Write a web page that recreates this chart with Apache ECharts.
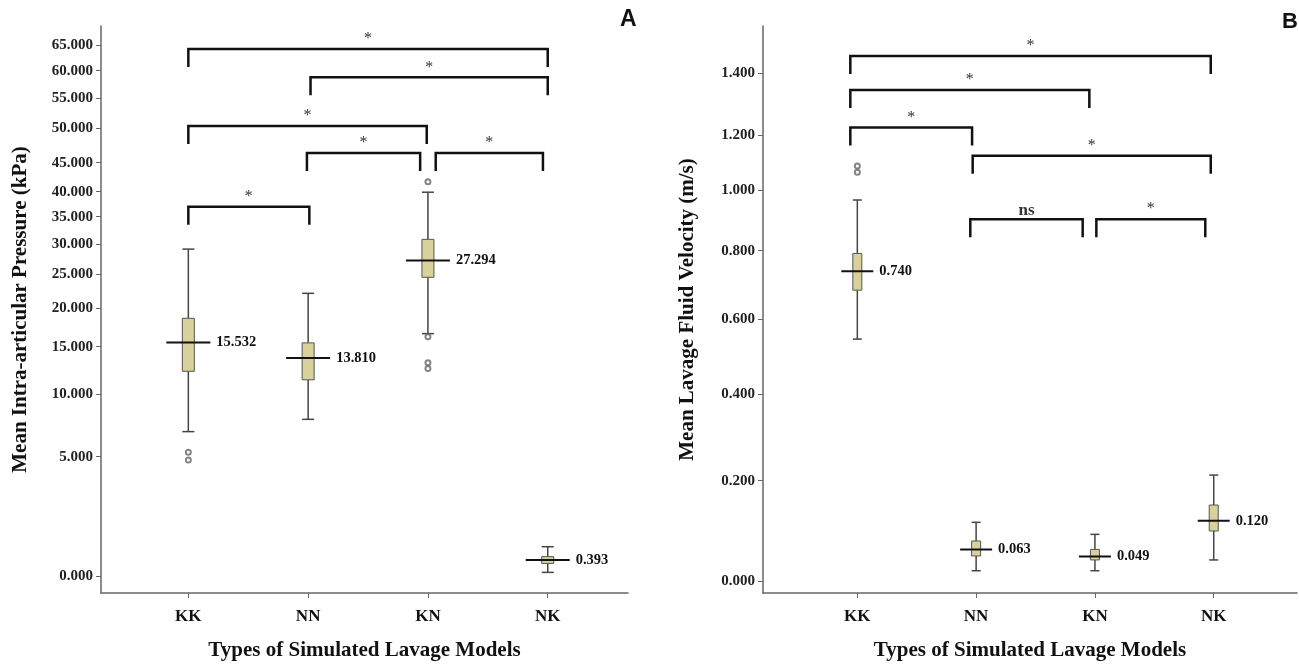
<!DOCTYPE html>
<html>
<head>
<meta charset="utf-8">
<script src="https://cdn.jsdelivr.net/npm/echarts@6/dist/echarts.min.js"></script>
<style>
  html, body { margin: 0; padding: 0; background: #fff; }
  #chart { width: 1299px; height: 665px; }
</style>
</head>
<body>
<div id="chart"></div>
<script>
var categories = ['KK', 'NN', 'KN', 'NK'];

// panel A - pressure (kPa)
var ticksA = [0, 5, 10, 15, 20, 25, 30, 35, 40, 45, 50, 55, 60, 65];
var loA  = [7.0, 7.98, 16.7, 0.06];
var q1A  = [12.4, 11.5, 24.56, 0.29];
var medA = [15.532, 13.810, 27.294, 0.393];
var q3A  = [18.7, 15.5, 30.9, 0.50];
var hiA  = [29.2, 22.2, 39.9, 0.845];
var outliersA = [[1, 5.35], [1, 4.82], [3, 41.7], [3, 16.3], [3, 13.3], [3, 12.7]];
var bracketsA = [
  [1, 4, 64.2, '*'],
  [2.02, 4, 58.8, '*'],
  [1, 2.99, 50.4, '*'],
  [1.99, 2.935, 46.4, '*'],
  [3.065, 3.96, 46.4, '*'],
  [1, 2.01, 37.0, '*']
];

// panel B - velocity (m/s)
var ticksB = [0, 0.2, 0.4, 0.6, 0.8, 1.0, 1.2, 1.4];
var loB  = [0.547, 0.0205, 0.0205, 0.042];
var q1B  = [0.685, 0.050, 0.042, 0.0997];
var medB = [0.740, 0.063, 0.049, 0.120];
var q3B  = [0.792, 0.0798, 0.063, 0.1515];
var hiB  = [0.967, 0.117, 0.093, 0.213];
var outliersB = [[1, 1.087], [1, 1.065]];
var bracketsB = [
  [0.941, 3.975, 1.456, '*'],
  [0.941, 2.953, 1.346, '*'],
  [0.941, 1.966, 1.224, '*'],
  [1.971, 3.975, 1.125, '*'],
  [1.951, 2.897, 0.904, 'ns'],
  [3.012, 3.929, 0.904, '*']
];

// the original axes are not linear: tick spacing shrinks upward.
// scale knots = axis height of each tick
var scaleA = [0, 119.3, 182, 229.3, 267.7, 301.7, 331.7, 359.3, 384.3, 413.3, 447.7, 477.7, 505.3, 531];
var scaleB = [0, 100.3, 187, 261.7, 330.3, 391, 446, 507.7];

function makeWarp(ticks, knots, p0) {
  return function (v) {
    var n = ticks.length;
    if (v <= ticks[1]) {
      if (v <= 0) return knots[0];
      return knots[1] * Math.pow(v / ticks[1], p0);
    }
    for (var i = 1; i < n - 1; i++) {
      if (v <= ticks[i + 1]) {
        return knots[i] + (v - ticks[i]) / (ticks[i + 1] - ticks[i]) * (knots[i + 1] - knots[i]);
      }
    }
    return knots[n - 1] + (v - ticks[n - 1]) / (ticks[n - 1] - ticks[n - 2]) * (knots[n - 1] - knots[n - 2]);
  };
}
var warpA = makeWarp(ticksA, scaleA, 0.79);
var warpB = makeWarp(ticksB, scaleB, 1);

var serif = '"Liberation Serif", "DejaVu Serif", serif';

function boxRender(boxW, medW, fs) {
  return function (params, api) {
    var x = api.value(0);
    var pLo = api.coord([x, api.value(1)]);
    var pQ1 = api.coord([x, api.value(2)]);
    var pMed = api.coord([x, api.value(3)]);
    var pQ3 = api.coord([x, api.value(4)]);
    var pHi = api.coord([x, api.value(5)]);
    var cx = pMed[0];
    var wStyle = { stroke: '#444', lineWidth: 1.5 };
    return {
      type: 'group',
      children: [
        { type: 'line', shape: { x1: cx, y1: pHi[1], x2: cx, y2: pQ3[1] }, style: wStyle },
        { type: 'line', shape: { x1: cx, y1: pQ1[1], x2: cx, y2: pLo[1] }, style: wStyle },
        { type: 'line', shape: { x1: cx - boxW / 2, y1: pHi[1], x2: cx + boxW / 2, y2: pHi[1] }, style: wStyle },
        { type: 'line', shape: { x1: cx - boxW / 2, y1: pLo[1], x2: cx + boxW / 2, y2: pLo[1] }, style: wStyle },
        { type: 'rect', shape: { x: cx - boxW / 2, y: pQ3[1], width: boxW, height: pQ1[1] - pQ3[1] },
          style: { fill: '#d8d199', stroke: '#555', lineWidth: 1 } },
        { type: 'line', shape: { x1: cx - medW / 2, y1: pMed[1], x2: cx + medW / 2, y2: pMed[1] },
          style: { stroke: '#111', lineWidth: 2 } },
        { type: 'text', style: {
          text: api.value(6).toFixed(3), x: cx + medW / 2 + 6, y: pMed[1],
          verticalAlign: 'middle', fontFamily: serif, fontWeight: 'bold', fontSize: fs, fill: '#111' } }
      ]
    };
  };
}

function bracketRender(list, drop) {
  return function (params, api) {
    var p1 = api.coord([api.value(0), api.value(2)]);
    var p2 = api.coord([api.value(1), api.value(2)]);
    var lab = list[params.dataIndex][3];
    var ns = lab !== '*';
    return {
      type: 'group',
      children: [
        { type: 'polyline', shape: { points: [[p1[0], p1[1] + drop], [p1[0], p1[1]], [p2[0], p2[1]], [p2[0], p2[1] + drop]] },
          style: { stroke: '#111', lineWidth: 2.5, fill: null } },
        { type: 'text', style: {
          text: lab, x: (p1[0] + p2[0]) / 2, y: p1[1] - (ns ? 9 : 10),
          align: 'center', verticalAlign: 'middle', fontFamily: serif,
          fontWeight: ns ? 'bold' : 'normal', fontSize: ns ? 17 : 16, fill: '#333' } }
      ]
    };
  };
}

function boxData(lo, q1, med, q3, hi, warp) {
  return categories.map(function (c, i) {
    return [i + 1, warp(lo[i]), warp(q1[i]), warp(med[i]), warp(q3[i]), warp(hi[i]), med[i]];
  });
}

function yAxis(ticks, warp, min, max, name, gap, idx) {
  var pos = ticks.map(warp);
  return {
    type: 'value', gridIndex: idx, min: min, max: max,
    name: name, nameLocation: 'middle', nameGap: gap,
    nameTextStyle: { fontFamily: serif, fontWeight: 'bold', fontSize: 21, color: '#111' },
    axisLine: { show: true, lineStyle: { color: '#666', width: 1.5 } },
    axisTick: { show: true, length: 5, customValues: pos, lineStyle: { color: '#666' } },
    splitLine: { show: false },
    axisLabel: {
      customValues: pos, margin: 8,
      fontFamily: serif, fontWeight: 'bold', fontSize: 15, color: '#222',
      formatter: function (v) {
        for (var i = 0; i < pos.length; i++) {
          if (Math.abs(pos[i] - v) < 0.01) return ticks[i].toFixed(3);
        }
        return '';
      }
    }
  };
}

function xAxis(min, max, idx) {
  return {
    type: 'value', gridIndex: idx, min: min, max: max,
    name: 'Types of Simulated Lavage Models', nameLocation: 'middle', nameGap: 47,
    nameTextStyle: { fontFamily: serif, fontWeight: 'bold', fontSize: 21, color: '#111' },
    axisLine: { show: true, onZero: false, lineStyle: { color: '#666', width: 1.5 } },
    axisTick: { show: true, length: 5, customValues: [1, 2, 3, 4], lineStyle: { color: '#666' } },
    splitLine: { show: false },
    axisLabel: {
      customValues: [1, 2, 3, 4], margin: 15,
      fontFamily: serif, fontWeight: 'bold', fontSize: 17, color: '#111',
      formatter: function (v) { return categories[Math.round(v) - 1] || ''; }
    }
  };
}

var chart = echarts.init(document.getElementById('chart'));
chart.setOption({
  animation: false,
  backgroundColor: '#fff',
  grid: [
    { left: 101, top: 26, right: 671, bottom: 72, outerBoundsMode: 'none' },
    { left: 763, top: 26, right: 2, bottom: 72, outerBoundsMode: 'none' }
  ],
  xAxis: [xAxis(0.271, 4.670, 0), xAxis(0.206, 4.701, 1)],
  yAxis: [
    yAxis(ticksA, warpA, -17, 550, 'Mean Intra-articular Pressure (kPa)', 70, 0),
    yAxis(ticksB, warpB, -12, 555, 'Mean Lavage Fluid Velocity (m/s)', 65, 1)
  ],
  graphic: [
    { type: 'text', left: 620, top: 8, style: { text: 'A', fontFamily: '"Liberation Sans", Arial, sans-serif', fontWeight: 'bold', fontSize: 23, fill: '#111' } },
    { type: 'text', left: 1282, top: 11, style: { text: 'B', fontFamily: '"Liberation Sans", Arial, sans-serif', fontWeight: 'bold', fontSize: 22, fill: '#111' } }
  ],
  series: [
    { type: 'custom', xAxisIndex: 0, yAxisIndex: 0, renderItem: boxRender(12, 44, 14.5),
      data: boxData(loA, q1A, medA, q3A, hiA, warpA), encode: { x: 0, y: [1, 2, 3, 4, 5] } },
    { type: 'scatter', xAxisIndex: 0, yAxisIndex: 0, symbol: 'emptyCircle', symbolSize: 5,
      itemStyle: { color: '#666', borderWidth: 1 },
      data: outliersA.map(function (d) { return [d[0], warpA(d[1])]; }) },
    { type: 'custom', xAxisIndex: 0, yAxisIndex: 0, renderItem: bracketRender(bracketsA, 18),
      data: bracketsA.map(function (b) { return [b[0], b[1], warpA(b[2])]; }), encode: { x: [0, 1], y: 2 } },
    { type: 'custom', xAxisIndex: 1, yAxisIndex: 1, renderItem: boxRender(9, 32, 14.5),
      data: boxData(loB, q1B, medB, q3B, hiB, warpB), encode: { x: 0, y: [1, 2, 3, 4, 5] } },
    { type: 'scatter', xAxisIndex: 1, yAxisIndex: 1, symbol: 'emptyCircle', symbolSize: 5,
      itemStyle: { color: '#666', borderWidth: 1 },
      data: outliersB.map(function (d) { return [d[0], warpB(d[1])]; }) },
    { type: 'custom', xAxisIndex: 1, yAxisIndex: 1, renderItem: bracketRender(bracketsB, 18),
      data: bracketsB.map(function (b) { return [b[0], b[1], warpB(b[2])]; }), encode: { x: [0, 1], y: 2 } }
  ]
});
</script>
</body>
</html>
